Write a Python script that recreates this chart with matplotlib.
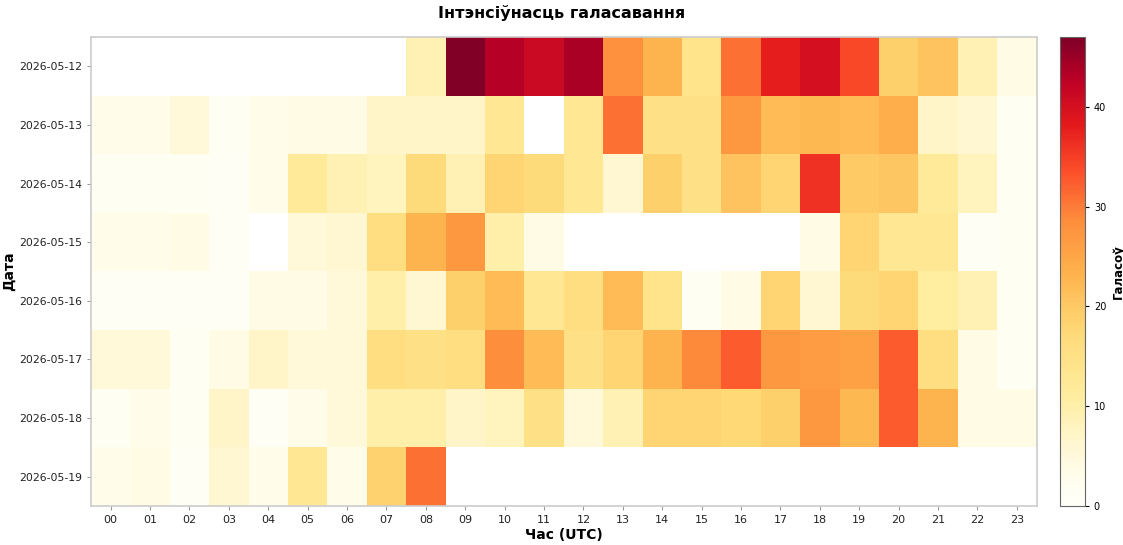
import numpy as np
import matplotlib.pyplot as plt
from matplotlib.colors import LinearSegmentedColormap, ListedColormap

nan = np.nan

dates = ["2026-05-12", "2026-05-13", "2026-05-14", "2026-05-15",
         "2026-05-16", "2026-05-17", "2026-05-18", "2026-05-19"]
hours = [f"{h:02d}" for h in range(24)]

# votes per hour, one list per day
d12 = [nan, nan, nan, nan, nan, nan, nan, nan, 9, 47, 43, 41, 44, 28, 23, 14, 31, 38, 40, 34, 19, 21, 9, 4]
d13 = [3, 3, 5, 2, 3, 4, 4, 7, 7, 7, 13, nan, 13, 31, 15, 15, 27, 22, 22.5, 22, 24, 7, 6, 2]
d14 = [2, 1.5, 2, 1, 3, 12, 9, 8, 17, 9, 18, 17, 13, 6, 19, 15, 21, 18, 36, 20, 20.5, 12, 8, 2]
d15 = [3, 3, 4, 1, nan, 5, 6, 16, 23, 27, 10, 4, nan, nan, nan, nan, nan, nan, 4, 18, 13, 13, 1, 2]
d16 = [1, 1, 1, 1, 4, 4, 5, 10, 6, 19, 22, 13, 16, 22, 14, 2, 4, 18, 6, 17, 18, 11, 9, 2]
d17 = [5, 5, 2, 4, 7, 5, 5, 16, 15, 16, 28.5, 22, 15, 18, 23, 29, 32.5, 27, 26.5, 26, 32.5, 16, 4, 2]
d18 = [2, 3, 2, 7, 1, 3, 5, 10, 10, 7, 8, 15, 5, 9, 18, 18, 17.5, 19, 27, 22.5, 32.5, 23, 4, 4]
d19 = [3, 4, 1, 6, 3, 13, 3, 18.5, 31, nan, nan, nan, nan, nan, nan, nan, nan, nan, nan, nan, nan, nan, nan, nan]

data = np.array([d12, d13, d14, d15, d16, d17, d18, d19], dtype=float)

# YlOrRd-like ramp that starts from white and stays pale longer
base = LinearSegmentedColormap.from_list(
    "ylorrd_white",
    ["#fffff8", "#ffeda0", "#fed976", "#feb24c", "#fd8d3c",
     "#fc4e2a", "#e31a1c", "#bd0026", "#800026"])
cmap = ListedColormap(base(np.linspace(0, 1, 256) ** 1.4))

fig = plt.figure(figsize=(11.23, 5.45), dpi=100)
ax = fig.add_axes([0.081, 0.0716, 0.842, 0.8605])
cax = fig.add_axes([0.944, 0.0716, 0.022, 0.8605])

mesh = ax.pcolormesh(np.ma.masked_invalid(data), cmap=cmap, vmin=0, vmax=47)
ax.set_xlim(0, 24)
ax.set_ylim(8, 0)
ax.set_xticks(np.arange(24) + 0.5)
ax.set_xticklabels(hours, fontsize=8)
ax.set_yticks(np.arange(8) + 0.5)
ax.set_yticklabels(dates, fontsize=7.8)
ax.tick_params(colors="#222222", length=3, color="#999999")
for s in ax.spines.values():
    s.set_color("#cccccc")
    s.set_linewidth(1.2)

ax.set_xlabel("Час (UTC)", fontsize=10, fontweight="bold", labelpad=2)
ax.set_ylabel("Дата", fontsize=10, fontweight="bold", labelpad=2)
fig.suptitle("Інтэнсіўнасць галасавання", fontsize=11.5, fontweight="bold", y=0.99)

cb = fig.colorbar(mesh, cax=cax)
cb.set_ticks([0, 10, 20, 30, 40])
cb.set_label("Галасоў", fontsize=8.5, fontweight="bold")
cb.ax.tick_params(labelsize=7, length=3)
cb.outline.set_edgecolor("#666666")

fig.savefig("out.png", dpi=100)
